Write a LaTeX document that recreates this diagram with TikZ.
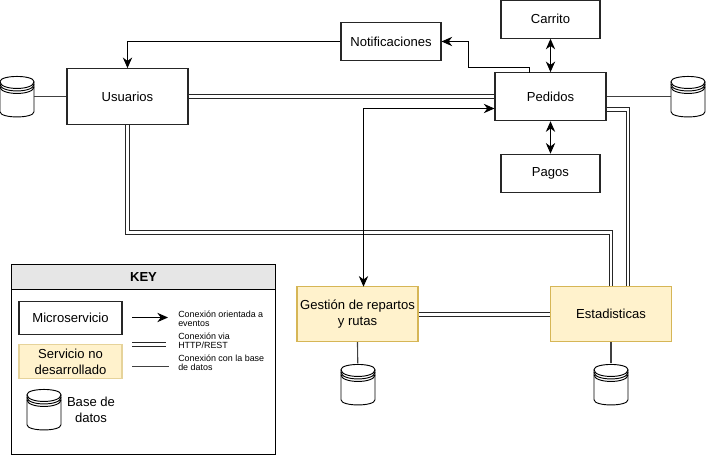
\documentclass[tikz,border=0pt]{standalone}
\usepackage{fontspec}
\setmainfont{Liberation Sans}
\usetikzlibrary{arrows.meta}
\definecolor{keyhead}{HTML}{E6E6E6}
\definecolor{notdone}{HTML}{FFF2CC}
\definecolor{notdoneline}{HTML}{D6B656}
\newcommand{\dbnode}[3]{
  \node[dbbox] (#1) at (#2,#3) {};
  \draw[dbline, shift={(#1.center)}] (-17,-15) .. controls (-17,-22) and (17,-22) .. (17,-15) -- (17,15) .. controls (17,22) and (-17,22) .. (-17,15) -- cycle;
  \foreach \k in {0,2.5,5}
    \draw[dbline, shift={(#1.center)}] (-17,-15+\k) .. controls (-17,-6+\k) and (17,-6+\k) .. (17,-15+\k);
}
\begin{document}
\begin{tikzpicture}[x=0.75pt, y=-0.75pt, font=\fontsize{9.8}{12}\selectfont,
    main/.style = {draw, line width=0.8pt, align=center, inner sep=0pt, draw=black!85},
    todo/.style = {main, fill=notdone, draw=notdoneline},
    dbbox/.style = {minimum width=25.5pt, minimum height=31.5pt, inner sep=0pt},
    dbline/.style = {line width=0.7pt},
    event/.style = {-{Stealth[length=8pt,width=7pt]}, line width=0.75pt},
    both/.style = {{Stealth[length=8pt,width=7pt]}-{Stealth[length=8pt,width=7pt]}, line width=0.75pt},
    rest/.style = {double, double distance=2pt, line width=0.75pt, draw=black!85},
    dbconn/.style = {line width=0.85pt, draw=black!75},
    small/.style = {align=left, anchor=west, inner sep=0pt, font=\fontsize{6.7}{6.8}\selectfont}]
  \useasboundingbox (0,-0.7) rectangle (706,455.3);
  % services
  \node[main, minimum width=90.75pt, minimum height=42pt] (usuarios) at (127.5,96) {Usuarios};
  \node[main, minimum width=75pt, minimum height=28.5pt] (notif) at (391,40.8) {Notificaciones};
  \node[main, minimum width=74.25pt, minimum height=28.5pt] (carrito) at (550.5,18.5) {Carrito};
  \node[main, minimum width=83.25pt, minimum height=36pt] (pedidos) at (550.5,96) {Pedidos};
  \node[main, minimum width=74.25pt, minimum height=28.5pt] (pagos) at (550.5,172.5) {Pagos};
  \node[todo, minimum width=90.75pt, minimum height=41.25pt] (reparto) at (357.5,313.5) {Gestión de repartos\\y rutas};
  \node[todo, minimum width=90.75pt, minimum height=41.25pt] (stats) at (611,313.5) {Estadisticas};
  % databases
  \dbnode{dbusu}{17}{96}
  \dbnode{dbped}{688}{96}
  \dbnode{dbrep}{358}{384}
  \dbnode{dbsta}{611}{384}
  % database links
  \draw[dbconn] (dbusu) -- (usuarios);
  \draw[dbconn] (pedidos) -- (dbped);
  \draw[dbconn] (reparto.south) -- (dbrep);
  \draw[dbconn] (stats) -- (dbsta);
  % rest links
  \draw[rest] (usuarios.east) -- (pedidos.west);
  \draw[rest] (usuarios.south) |- (611,232) -- (stats.north);
  \draw[rest] (pedidos.east |- 0,108.5) -| (stats.north -| 628,0);
  \draw[rest] (reparto.east) -- (stats.west);
  % events
  \coordinate (pedtop) at (529,72);
  \coordinate (gesttop) at (363.5,286);
  \draw[event] (pedtop) |- (468.5,66.8) |- (notif.east);
  \draw[event] (notif.west) -| (usuarios.north);
  \draw[both] (carrito) -- (pedidos);
  \draw[both] (pedidos) -- (pagos);
  \draw[both] (gesttop) |- (pedidos.west |- 0,107.8);
  % key
  \node[draw, line width=0.75pt, minimum width=198pt, minimum height=142.5pt, inner sep=0pt] (key) at (143.5,358.8) {};
  \node[draw, line width=0.75pt, fill=keyhead, minimum width=198pt, minimum height=18.75pt, inner sep=0pt, font=\fontsize{9.8}{12}\selectfont\bfseries] (keytitle) at (143.5,276.3) {KEY};
  \node[main, minimum width=77.25pt, minimum height=24.75pt] (k1) at (70.5,317.5) {Microservicio};
  \node[todo, minimum width=77.25pt, minimum height=25.5pt, draw=notdoneline!60] (k2) at (70.5,361) {Servicio no\\desarrollado};
  \dbnode{dbkey}{44}{409}
  \node[align=center, inner sep=0pt] (k3) at (91,409) {Base de\\datos};
  \coordinate (a1) at (132,316.8);
  \coordinate (a2) at (168,316.8);
  \coordinate (b1) at (132,343.5);
  \coordinate (b2) at (166,343.5);
  \coordinate (c1) at (132,365.8);
  \coordinate (c2) at (169,365.8);
  \draw[event] (a1) -- (a2);
  \draw[rest] (b1) -- (b2);
  \draw[dbconn] (c1) -- (c2);
  \node[small] (t1) at (178,318) {Conexión orientada a\\eventos};
  \node[small] (t2) at (178,340) {Conexión via\\HTTP/REST};
  \node[small] (t3) at (178,362) {Conexión con la base\\de datos};
\end{tikzpicture}
\end{document}
